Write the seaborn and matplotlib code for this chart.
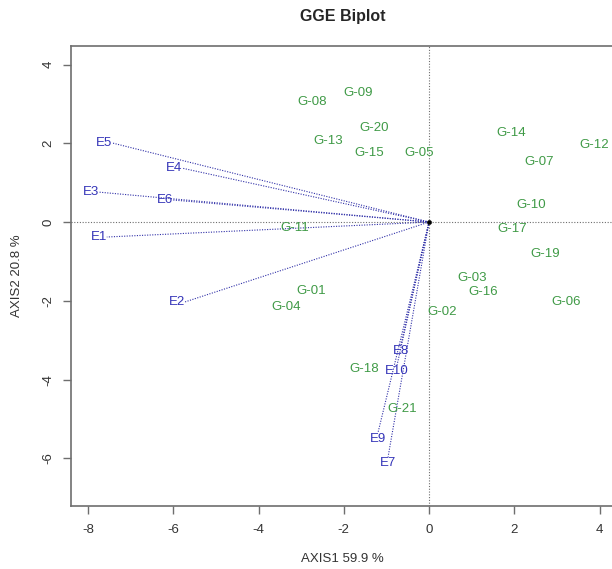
import numpy as np
import pandas as pd
import matplotlib
matplotlib.use("Agg")
import matplotlib.pyplot as plt
import seaborn as sns

sns.set_style("white")
plt.rcParams['font.family'] = ['Liberation Sans', 'DejaVu Sans']
plt.rcParams['axes.unicode_minus'] = False

# genotipos (scores PC1, PC2)
genotipos = ["G-01", "G-02", "G-03", "G-04", "G-05", "G-06", "G-07", "G-08", "G-09", "G-10", "G-11",
             "G-12", "G-13", "G-14", "G-15", "G-16", "G-17", "G-18", "G-19", "G-20", "G-21"]
gen_x = [-2.77, 0.31, 1.01, -3.36, -0.23, 3.22, 2.58, -2.74, -1.67, 2.39, -3.15,
         3.88, -2.37, 1.92, -1.41, 1.27, 1.95, -1.53, 2.72, -1.29, -0.63]
gen_y = [-1.75, -2.28, -1.42, -2.16, 1.75, -2.03, 1.52, 3.05, 3.27, 0.43, -0.15,
         1.95, 2.06, 2.26, 1.75, -1.78, -0.18, -3.74, -0.81, 2.39, -4.75]

# ambientes (vetores)
ambientes = ["E1", "E2", "E3", "E4", "E5", "E6", "E7", "E8", "E9", "E10"]
amb_x = [-7.56, -5.73, -7.75, -5.80, -7.44, -6.01, -0.96, -0.66, -1.20, -0.75]
amb_y = [-0.38, -2.03, 0.76, 1.37, 2.01, 0.56, -5.96, -3.12, -5.36, -3.63]

titulo = "GGE Biplot"
eixo_x = "AXIS1 59.9 %"
eixo_y = "AXIS2 20.8 %"

gen = pd.DataFrame({"nome": genotipos, "x": gen_x, "y": gen_y})
amb = pd.DataFrame({"nome": ambientes, "x": amb_x, "y": amb_y})

verde = "#3f9a46"
azul = "#3434b8"
cinza = "#6e6e6e"

fig = plt.figure(figsize=(6.12, 5.69), dpi=100)
ax = fig.add_axes([71 / 612, 1 - 506 / 569, 543 / 612, 460 / 569])

ax.axhline(0, color=cinza, lw=0.8, ls=(0, (1, 1.5)), zorder=1)
ax.axvline(0, color=cinza, lw=0.8, ls=(0, (1, 1.5)), zorder=1)

# vetores dos ambientes
for _, r in amb.iterrows():
    ax.plot([0, r.x], [0, r.y], color="#3030a8", lw=0.8, ls=(0, (1, 1.3)), zorder=2)
    if abs(r.x) > abs(r.y):
        ha, va = ("right" if r.x < 0 else "left"), "center"
    else:
        ha, va = "center", ("top" if r.y < 0 else "bottom")
    ax.text(r.x, r.y, r.nome, color=azul, fontsize=9.5, ha=ha, va=va, zorder=3)

for _, r in gen.iterrows():
    ax.text(r.x, r.y, r.nome, color=verde, fontsize=9.5, ha="center", va="center", zorder=3)

sns.scatterplot(x=[0], y=[0], color="black", s=10, ax=ax, zorder=4, edgecolor="black")

ax.set_xlim(-8.40, 4.34)
ax.set_ylim(-7.21, 4.47)
ax.set_xticks([-8, -6, -4, -2, 0, 2, 4])
ax.set_yticks([-6, -4, -2, 0, 2, 4])

for lado in ["left", "bottom", "top"]:
    ax.spines[lado].set_color(cinza)
    ax.spines[lado].set_linewidth(1.2)
ax.spines["right"].set_visible(False)

ax.tick_params(axis="both", direction="out", length=6, width=1, color=cinza,
               labelsize=9.5, labelcolor="#333333", left=True, bottom=True)
ax.tick_params(axis="x", pad=7)
ax.tick_params(axis="y", pad=6, labelrotation=90)
for t in ax.get_yticklabels():
    t.set_va("center")

ax.set_xlabel(eixo_x, fontsize=9.5, color="#333333", labelpad=12)
ax.set_ylabel(eixo_y, fontsize=9.5, color="#333333", labelpad=14)
ax.set_title(titulo, fontsize=11.5, fontweight="bold", pad=18)

fig.savefig("out.png", dpi=100)
